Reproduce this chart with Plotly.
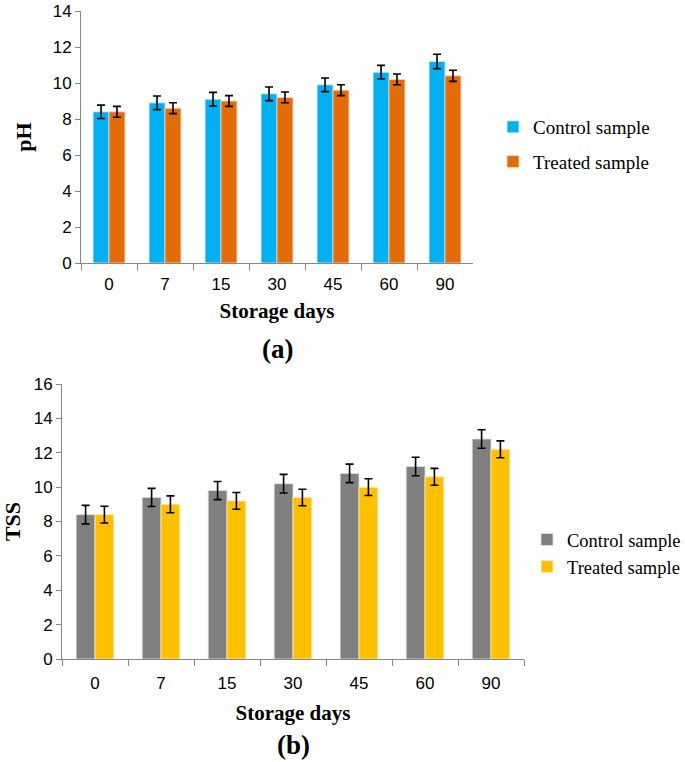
import plotly.graph_objects as go

days = ["0", "7", "15", "30", "45", "60", "90"]
ph_control = [8.4, 8.9, 9.1, 9.4, 9.9, 10.6, 11.2]
ph_treated = [8.4, 8.6, 9.0, 9.2, 9.6, 10.2, 10.4]
ph_control_err = [0.37, 0.38, 0.38, 0.38, 0.38, 0.38, 0.4]
ph_treated_err = [0.3, 0.3, 0.3, 0.3, 0.3, 0.3, 0.31]
tss_control = [8.4, 9.4, 9.8, 10.2, 10.8, 11.2, 12.8]
tss_treated = [8.4, 9.0, 9.2, 9.4, 10.0, 10.6, 12.2]
tss_control_err = [0.54, 0.53, 0.53, 0.54, 0.54, 0.54, 0.54]
tss_treated_err = [0.49, 0.49, 0.49, 0.48, 0.49, 0.49, 0.49]

W, H = 685, 762
def px(x):
    return x / W
def py(y):
    return 1 - y / H

serif = "Liberation Serif, Times New Roman, serif"
sans = "Liberation Sans, Arial, sans-serif"

def errb(vals):
    return dict(type="data", array=vals, visible=True, color="black", thickness=1.6, width=4)

fig = go.Figure()
fig.add_trace(go.Bar(x=days, y=ph_control, name="Control sample", legendgroup="a1",
                     marker=dict(color="#00B0F0", line=dict(color="#d8f2fc", width=0.8)),
                     error_y=errb(ph_control_err), xaxis="x", yaxis="y", legend="legend"))
fig.add_trace(go.Bar(x=days, y=ph_treated, name="Treated sample", legendgroup="a2",
                     marker=dict(color="#E36C09", line=dict(color="#f8dcc4", width=0.8)),
                     error_y=errb(ph_treated_err), xaxis="x", yaxis="y", legend="legend"))
fig.add_trace(go.Bar(x=days, y=tss_control, name="Control sample",
                     marker=dict(color="#808080", line=dict(color="#e0e0e0", width=0.8)),
                     error_y=errb(tss_control_err), xaxis="x2", yaxis="y2", legend="legend2"))
fig.add_trace(go.Bar(x=days, y=tss_treated, name="Treated sample",
                     marker=dict(color="#FFC000", line=dict(color="#fff0c0", width=0.8)),
                     error_y=errb(tss_treated_err), xaxis="x2", yaxis="y2", legend="legend2"))

axcol = "#868686"
xcommon = dict(type="category", showline=True, linecolor=axcol, linewidth=1, ticks="outside", tickson="boundaries",
               ticklen=6, tickcolor=axcol, tickfont=dict(family=sans, size=17, color="black"), showgrid=False,
               zeroline=False, automargin=False)
ycommon = dict(showline=True, linecolor=axcol, linewidth=1, ticks="outside", ticklen=5, tickcolor=axcol,
               tickfont=dict(family=sans, size=17, color="black"), showgrid=False, zeroline=False, dtick=2,
               automargin=False, ticklabeloverflow="allow")

fig.update_layout(
    width=W, height=H, margin=dict(l=0, r=0, t=0, b=0, autoexpand=False),
    paper_bgcolor="white", plot_bgcolor="white",
    barmode="group", bargap=0.43, bargroupgap=0,
    xaxis=dict(domain=[px(81), px(473)], anchor="y", ticklabelstandoff=6,
               title=dict(text="<b>Storage days</b>", font=dict(family=serif, size=21, color="black"), standoff=9), **xcommon),
    yaxis=dict(domain=[py(263), py(11)], anchor="x", range=[0, 14],
               title=dict(text="<b>pH</b>", font=dict(family=serif, size=22, color="black"), standoff=14), **ycommon),
    xaxis2=dict(domain=[px(62), px(524)], anchor="y2", ticklabelstandoff=9,
                title=dict(text="<b>Storage days</b>", font=dict(family=serif, size=21, color="black"), standoff=12), **xcommon),
    yaxis2=dict(domain=[py(659), py(384)], anchor="x2", range=[0, 16],
                title=dict(text="<b>TSS</b>", font=dict(family=serif, size=22, color="black"), standoff=14), **ycommon),
    legend=dict(x=px(493), y=py(108), xanchor="left", yanchor="top", font=dict(family=serif, size=19, color="black"),
                bgcolor="rgba(0,0,0,0)", itemwidth=30, tracegroupgap=7, traceorder="grouped", itemclick=False),
    legend2=dict(x=px(527), y=py(521), xanchor="left", yanchor="top", font=dict(family=serif, size=18.5, color="black"),
                 bgcolor="rgba(0,0,0,0)", itemwidth=30, itemclick=False),
    annotations=[
        dict(text="<b>(a)</b>", x=px(277), y=py(349), xref="paper", yref="paper", showarrow=False,
             font=dict(family=serif, size=27, color="black"), xanchor="center", yanchor="middle"),
        dict(text="<b>(b)</b>", x=px(293), y=py(745), xref="paper", yref="paper", showarrow=False,
             font=dict(family=serif, size=27, color="black"), xanchor="center", yanchor="middle"),
    ],
    showlegend=True,
)

fig.write_html("out.html", config={"displayModeBar": False},
               post_script="document.body.style.margin='0px';document.body.style.overflow='hidden';")
